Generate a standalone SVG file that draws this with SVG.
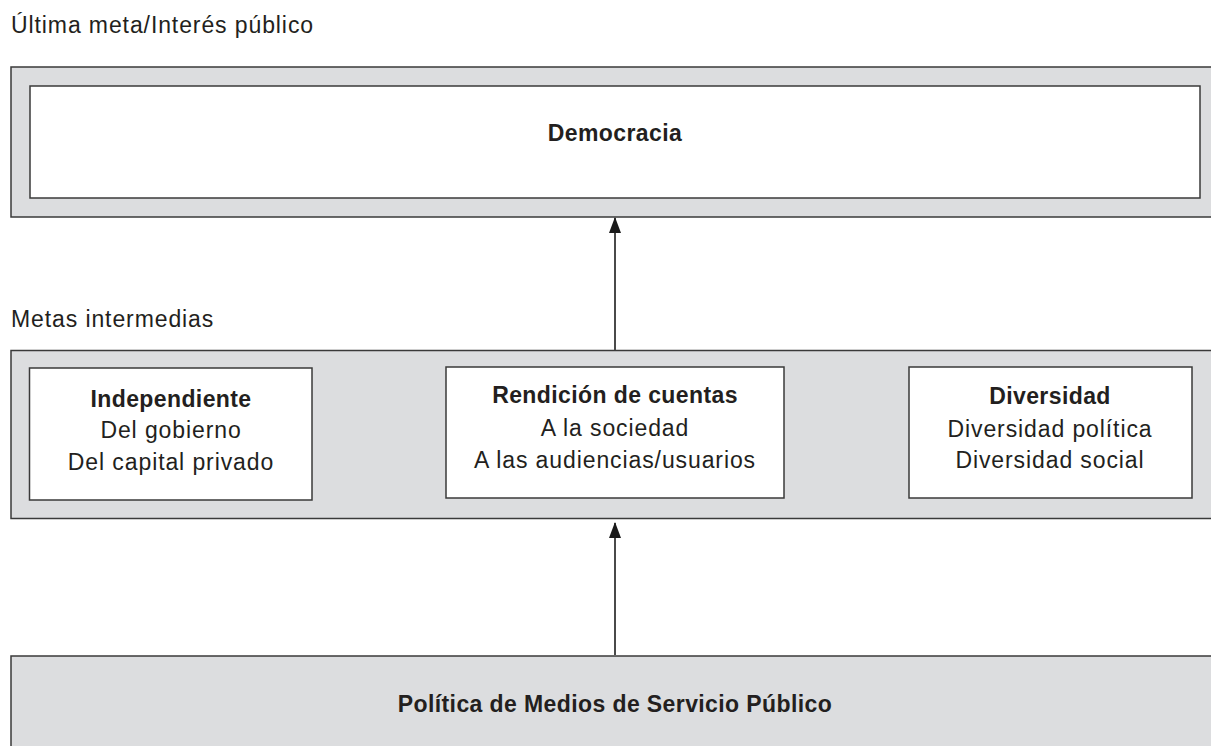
<svg xmlns="http://www.w3.org/2000/svg" width="1211" height="746" viewBox="0 0 1211 746">
<style>
.outer{fill:#dcdddf;stroke:#3a3a3a;stroke-width:1.5}
.inner{fill:#ffffff;stroke:#3a3a3a;stroke-width:1.5}
text{font-family:"Liberation Sans",Arial,sans-serif;font-size:23px;fill:#231f20;letter-spacing:0.9px}
.c{text-anchor:middle}
.b{font-weight:bold;letter-spacing:0.4px}
.conn{stroke:#4a4a4a;stroke-width:2;fill:none}
</style>
<defs>
<marker id="ah" markerWidth="16" markerHeight="12" refX="15" refY="6" orient="auto" markerUnits="userSpaceOnUse" viewBox="0 0 16 12">
<path d="M0,0 L16,6 L0,12 Z" fill="#1a1a1a"/>
</marker>
</defs>
<rect width="1211" height="746" fill="#ffffff"/>
<text x="11" y="33">Última meta/Interés público</text>
<text x="11" y="327">Metas intermedias</text>
<g id="ultima">
<rect class="outer" x="11" y="67" width="1215" height="150"/>
</g>
<g id="democracia">
<rect class="inner" x="30" y="86" width="1170" height="112"/>
<text class="c b" x="615" y="141">Democracia</text>
</g>
<g id="intermedias">
<rect class="outer" x="11" y="350.5" width="1215" height="168"/>
</g>
<g id="independiente">
<rect class="inner" x="29.5" y="368" width="282.5" height="132"/>
<text class="c b" x="171" y="407">Independiente</text>
<text class="c" x="171" y="438">Del gobierno</text>
<text class="c" x="171" y="470">Del capital privado</text>
</g>
<g id="rendicion">
<rect class="inner" x="446" y="367" width="338" height="131"/>
<text class="c b" x="615" y="403">Rendición de cuentas</text>
<text class="c" x="615" y="436">A la sociedad</text>
<text class="c" x="615" y="468">A las audiencias/usuarios</text>
</g>
<g id="diversidad">
<rect class="inner" x="909" y="367" width="283" height="131"/>
<text class="c b" x="1050" y="404">Diversidad</text>
<text class="c" x="1050" y="437">Diversidad política</text>
<text class="c" x="1050" y="468">Diversidad social</text>
</g>
<g id="politica">
<rect class="outer" x="11" y="656" width="1215" height="100"/>
<text class="c b" x="615" y="712">Política de Medios de Servicio Público</text>
</g>
<g id="connectors">
<line class="conn" x1="615" y1="350" x2="615" y2="218" marker-end="url(#ah)"/>
<line class="conn" x1="615" y1="655" x2="615" y2="523" marker-end="url(#ah)"/>
</g>
</svg>
